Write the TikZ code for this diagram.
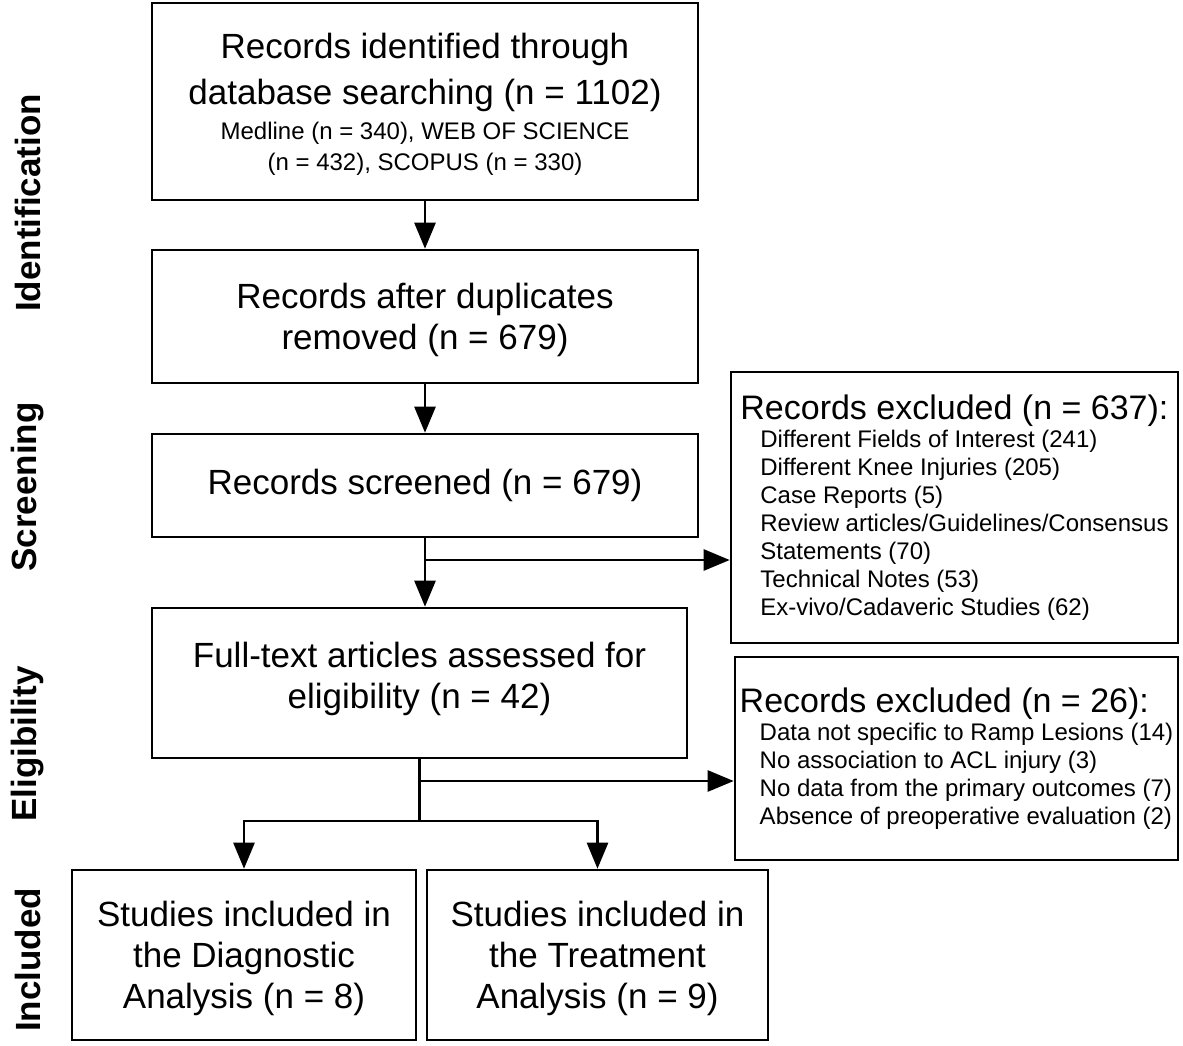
\documentclass[tikz,border=0pt]{standalone}
\usepackage{fontspec}
\setmainfont{Liberation Sans}
\usetikzlibrary{arrows.meta}

\begin{document}
\begin{tikzpicture}[x=1pt, y=-1pt,
    box/.style={draw, line width=2.6pt, align=center, inner sep=0pt,
        font=\fontsize{35}{41}\selectfont},
    exbox/.style={draw, line width=2.6pt, align=left, inner xsep=2pt, inner ysep=0pt,
        font=\fontsize{24}{28}\selectfont},
    phase/.style={rotate=90, font=\fontsize{35}{40}\selectfont\bfseries},
    flow/.style={line width=2.6pt, -{Triangle[length=26pt, width=21pt]}},
    link/.style={line width=2.6pt}]
    \useasboundingbox (0, 0) rectangle (1183, 1045);
    % phases
    \node[phase] (lid) at (28, 203) {Identification};
    \node[phase] (lsc) at (28, 487) {Screening};
    \node[phase] (lel) at (28, 744) {Eligibility};
    \node[phase] (lin) at (28, 960) {Included};
    % main column
    \node[box, minimum width=546, minimum height=197, text depth=-3pt] (ident) at (425, 101.5)
        {Records identified through\\[5pt]
         database searching (n = 1102)\\[-6pt]
         {\fontsize{24}{31}\selectfont Medline (n = 340), WEB OF SCIENCE}\\[-10pt]
         {\fontsize{24}{31}\selectfont (n = 432), SCOPUS (n = 330)}};
    \node[box, minimum width=546, minimum height=133, text depth=-1.5pt] (dup) at (425, 316.5)
        {Records after duplicates\\ removed (n = 679)};
    \node[box, minimum width=546, minimum height=103] (screen) at (425, 485.5)
        {Records screened (n = 679)};
    \node[box, minimum width=535, minimum height=150, text depth=15pt] (full) at (419.5, 683)
        {Full-text articles assessed for\\ eligibility (n = 42)};
    % excluded
    \node[exbox, minimum width=447, minimum height=271] (excl1) at (954.5, 507.5)
        {{\fontsize{34}{40}\selectfont Records excluded (n = 637):}\\
         \hspace*{20pt}Different Fields of Interest (241)\\
         \hspace*{20pt}Different Knee Injuries (205)\\
         \hspace*{20pt}Case Reports (5)\\
         \hspace*{20pt}Review articles/Guidelines/Consensus\\
         \hspace*{20pt}Statements (70)\\
         \hspace*{20pt}Technical Notes (53)\\
         \hspace*{20pt}Ex-vivo/Cadaveric Studies (62)};
    \node[exbox, minimum width=443, minimum height=203] (excl2) at (956.5, 758.5)
        {{\fontsize{34}{40}\selectfont Records excluded (n = 26):}\\
         \hspace*{20pt}Data not specific to Ramp Lesions (14)\\
         \hspace*{20pt}No association to ACL injury (3)\\
         \hspace*{20pt}No data from the primary outcomes (7)\\
         \hspace*{20pt}Absence of preoperative evaluation (2)};
    % included
    \node[box, minimum width=344, minimum height=170, text depth=-4.5pt] (diag) at (244, 955)
        {Studies included in\\ the Diagnostic\\ Analysis (n = 8)};
    \node[box, minimum width=341, minimum height=170, text depth=-4.5pt] (treat) at (597.5, 955)
        {Studies included in\\ the Treatment\\ Analysis (n = 9)};
    % arrows
    \draw[flow] (ident) -- (dup);
    \draw[flow] (dup) -- (screen);
    \draw[flow] (screen.south) -- (screen.south |- full.north);
    \coordinate (fork1) at (425, 560);
    \draw[flow] (fork1) -- (fork1 -| excl1.west);
    \coordinate (fork2) at (419.5, 781);
    \coordinate (split) at (419.5, 821);
    \draw[link] (full.south) -- (split);
    \draw[flow] (fork2) -- (fork2 -| excl2.west);
    \draw[flow] (split) -| (diag.north);
    \draw[flow] (split) -| (treat.north);
\end{tikzpicture}
\end{document}
